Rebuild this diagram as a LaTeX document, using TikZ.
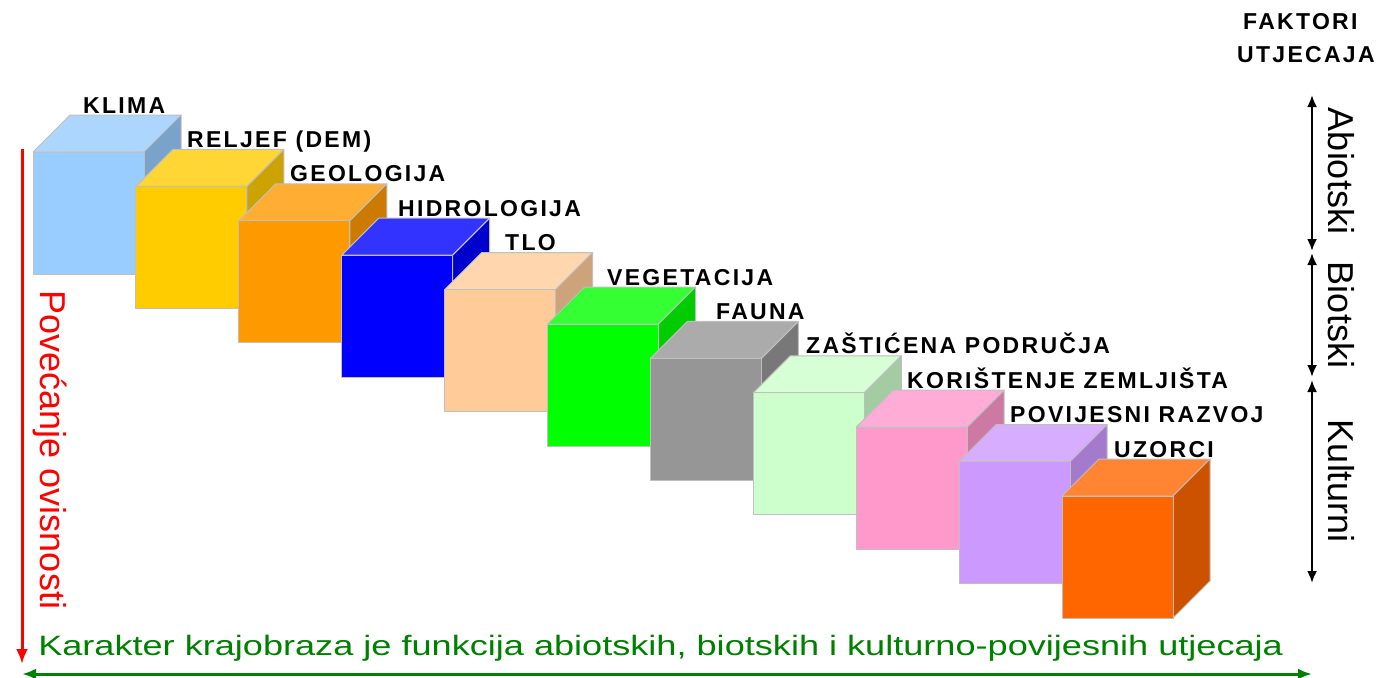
\documentclass[tikz,border=0pt]{standalone}
\usepackage{fontspec}
\setmainfont{Liberation Sans}
\newfontfamily\lblfont{Liberation Sans}[LetterSpace=10]
\usetikzlibrary{arrows.meta}

\definecolor{klima}{HTML}{99CCFF}
\definecolor{reljef}{HTML}{FFCC00}
\definecolor{geologija}{HTML}{FF9900}
\definecolor{hidro}{HTML}{0000FF}
\definecolor{tlo}{HTML}{FFCC99}
\definecolor{vegetacija}{HTML}{00FF00}
\definecolor{fauna}{HTML}{969696}
\definecolor{zasticena}{HTML}{CCFFCC}
\definecolor{koristenje}{HTML}{FF99CC}
\definecolor{povijesni}{HTML}{CC99FF}
\definecolor{uzorci}{HTML}{FF6600}
\definecolor{karakter}{HTML}{008000}

\tikzset{
  face/.style={draw=black!25, line width=1pt, line join=round},
  lbl/.style={anchor=base west, inner sep=0pt,
    font=\lblfont\bfseries\fontsize{23}{23}\selectfont},
  side/.style={anchor=base, inner sep=0pt, rotate=-90,
    font=\fontsize{36}{36}\selectfont},
  grp/.style={line width=2.2pt, {Latex[length=12pt,width=10pt]}-{Latex[length=12pt,width=10pt]}},
}

\begin{document}
\begin{tikzpicture}[x=1pt, y=-1pt]
\useasboundingbox (0,0) rectangle (1388,677);

%cubes
\foreach \i/\col/\txt/\lx in {1/klima/KLIMA/83, 2/reljef/RELJEF (DEM)/187,
  3/geologija/GEOLOGIJA/290, 4/hidro/HIDROLOGIJA/398, 5/tlo/TLO/505,
  6/vegetacija/VEGETACIJA/607, 7/fauna/FAUNA/716,
  8/zasticena/ZAŠTIĆENA PODRUČJA/806, 9/koristenje/KORIŠTENJE ZEMLJIŠTA/907,
  10/povijesni/POVIJESNI RAZVOJ/1010, 11/uzorci/UZORCI/1114}{
  \pgfmathsetmacro\X{33+102.9*(\i-1)}
  \pgfmathsetmacro\Y{152+34.4*(\i-1)}
  \coordinate (c\i) at (\X,\Y);
  %top
  \filldraw[face, fill=\col!80!white] (c\i) -- ++(37,-37) -- ++(111,0) -- ++(-37,37) -- cycle;
  %side
  \filldraw[face, fill=\col!80!black] ([xshift=111pt]c\i) -- ++(37,-37) -- ++(0,122) -- ++(-37,37) -- cycle;
  %front
  \filldraw[face, fill=\col] (c\i) rectangle ++(111,122);
  %label
  \node[lbl] (lbl\i) at (\lx,{113+34.4*(\i-1)}) {\txt};
}

%heading
\node[lbl] (faktori) at (1243,30) {FAKTORI};
\node[lbl] (utjecaja) at (1237,63) {UTJECAJA};

%groups
\coordinate (abioT) at (1312,95);
\coordinate (abioB) at (1312,251);
\coordinate (bioT) at (1312,253);
\coordinate (bioB) at (1312,377);
\coordinate (kultT) at (1312,380);
\coordinate (kultB) at (1312,583);
\draw[grp] (abioT) -- (abioB);
\draw[grp] (bioT) -- (bioB);
\draw[grp] (kultT) -- (kultB);
\node[side] (abio) at (1328,171) {Abiotski};
\node[side] (bio) at (1328,315) {Biotski};
\node[side] (kult) at (1328,481) {Kulturni};

%dependency
\coordinate (ovisT) at (22,149);
\coordinate (ovisB) at (22,664);
\draw[red, line width=3pt, -{Latex[length=15pt,width=12pt]}] (ovisT) -- (ovisB);
\node[side, red] (ovis) at (40,450) {Povećanje ovisnosti};

%character
\coordinate (karL) at (22,674);
\coordinate (karR) at (1312,674);
\draw[karakter, line width=3pt, {Latex[length=14pt,width=11pt]}-{Latex[length=14pt,width=11pt]}] (karL) -- (karR);
\node[anchor=base west, inner sep=0pt, karakter, xscale=1.29, font=\fontsize{28}{28}\selectfont] (kar) at (38,655)
  {Karakter krajobraza je funkcija abiotskih, biotskih i kulturno-povijesnih utjecaja};
\end{tikzpicture}
\end{document}
